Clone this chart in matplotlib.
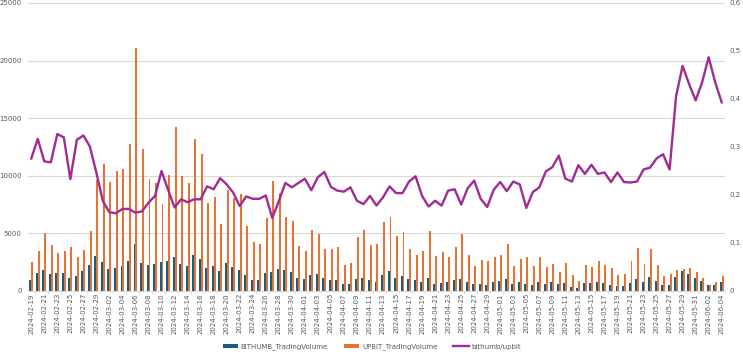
import numpy as np
import pandas as pd
import matplotlib
matplotlib.use("Agg")
import matplotlib.pyplot as plt

# daily trading volume, 2024-02-19 .. 2024-06-04
dates = pd.date_range("2024-02-19", "2024-06-04", freq="D")
labels = [d.strftime("%Y-%m-%d") for d in dates]

bithumb = [980, 1590, 1850, 1440, 1590, 1560, 1095, 1330, 1700, 2250,
           3060, 2540, 1880, 1995, 2195, 2600, 4075, 2430, 2225, 2310,
           2545, 2630, 2980, 2370, 2140, 3100, 2800, 2020, 2140, 1760,
           2455, 2110, 1790, 1415, 980, 920, 1560, 1675, 1910, 1850,
           1620, 1125, 1070, 1390, 1500, 1155, 980, 980, 575, 635,
           1040, 1125, 920, 780, 1390, 1760, 1160, 1300, 1070, 925,
           810, 1130, 640, 690, 810, 980, 1040, 810, 610, 610,
           550, 750, 870, 1070, 610, 750, 580, 550, 750, 640,
           750, 640, 690, 350, 290, 690, 690, 810, 690, 550,
           460, 430, 690, 1070, 780, 1240, 840, 490, 490, 1240,
           1700, 1470, 1100, 840, 490, 550, 810]

upbit = [2545, 3470, 5000, 4020, 3265, 3470, 3785, 2950, 3525, 5235,
         9660, 11020, 9430, 10385, 10620, 12730, 21090, 12350, 9750, 9375,
         7580, 10035, 14240, 9980, 9400, 13220, 11920, 7600, 8200, 5840,
         8735, 8100, 8420, 5670, 4250, 4105, 6360, 9575, 8505, 6390,
         6040, 3905, 3440, 5260, 4975, 3670, 3610, 3820, 2280, 2430,
         4690, 5260, 4020, 4075, 5955, 6450, 4740, 5150, 3670, 3090,
         3500, 5235, 3065, 3385, 2980, 3785, 4950, 3150, 2140, 2720,
         2600, 2950, 3120, 4075, 2200, 2800, 2920, 2200, 2980, 2050,
         2340, 1680, 2430, 1390, 900, 2250, 2050, 2630, 2250, 1965,
         1390, 1500, 2600, 3700, 2370, 3610, 2250, 1300, 1445, 1850,
         1940, 1965, 1680, 1100, 490, 750, 1330]

ratio = [0.276, 0.317, 0.270, 0.268, 0.327, 0.320, 0.233, 0.315, 0.324, 0.301,
         0.246, 0.187, 0.164, 0.162, 0.171, 0.171, 0.163, 0.166, 0.184, 0.198,
         0.250, 0.211, 0.174, 0.191, 0.185, 0.191, 0.191, 0.218, 0.212, 0.235,
         0.222, 0.205, 0.177, 0.197, 0.192, 0.192, 0.199, 0.152, 0.187, 0.225,
         0.216, 0.225, 0.234, 0.210, 0.237, 0.248, 0.217, 0.209, 0.207, 0.216,
         0.188, 0.181, 0.198, 0.178, 0.195, 0.218, 0.204, 0.204, 0.228, 0.239,
         0.198, 0.176, 0.188, 0.178, 0.209, 0.212, 0.180, 0.214, 0.230, 0.192,
         0.175, 0.211, 0.227, 0.208, 0.228, 0.222, 0.173, 0.206, 0.216, 0.249,
         0.258, 0.282, 0.234, 0.228, 0.262, 0.244, 0.263, 0.244, 0.247, 0.227,
         0.247, 0.227, 0.226, 0.228, 0.253, 0.257, 0.276, 0.285, 0.253, 0.406,
         0.469, 0.431, 0.397, 0.435, 0.487, 0.435, 0.393]

BLUE = "#156082"
ORANGE = "#E97132"
PURPLE = "#A02B93"
GRID = "#D9D9D9"
TXT = "#595959"

plt.rcParams['font.family'] = ['DejaVu Sans']
plt.rcParams['font.size'] = 5

fig = plt.figure(figsize=(7.43, 3.56), dpi=100)
ax = fig.add_axes([0.0377, 0.1826, 0.938, 0.809])

x = np.arange(len(labels))
w = 0.3
ax.bar(x - w / 2, bithumb, width=w, color=BLUE, linewidth=0,
       label="BITHUMB_TradingVolume", zorder=2)
ax.bar(x + w / 2, upbit, width=w, color=ORANGE, linewidth=0,
       label="UPBIT_TradingVolume", zorder=2)

ax.set_xlim(-0.5, len(labels) - 0.5)
ax.set_ylim(0, 25000)
ax.set_yticks(np.arange(0, 25001, 5000))
ax.grid(axis="y", color=GRID, linewidth=0.8, zorder=0)
ax.set_axisbelow(True)

ax.set_xticks(x[::2])
ax.set_xticklabels(labels[::2], rotation=90)
ax.set_xticks(np.arange(0.5, len(labels), 2), minor=True)
ax.tick_params(axis="x", which="major", length=0, pad=1.5, colors=TXT, labelsize=5)
ax.tick_params(axis="x", which="minor", length=2.5, color=GRID, width=0.6)
ax.tick_params(axis="y", length=0, pad=4.5, colors=TXT, labelsize=5)
for s in ["top", "right", "left"]:
    ax.spines[s].set_visible(False)
ax.spines["bottom"].set_color(GRID)
ax.spines["bottom"].set_linewidth(0.8)

ax2 = ax.twinx()
ax2.plot(x, ratio, color=PURPLE, linewidth=1.7, label="bithumb/upbit", zorder=3)
ax2.set_ylim(0, 0.6)
ax2.set_yticks(np.arange(0, 0.61, 0.1))
ax2.set_yticklabels(["0", "0.1", "0.2", "0.3", "0.4", "0.5", "0.6"])
ax2.tick_params(axis="y", length=0, pad=3.5, colors=TXT, labelsize=5)
for s in ax2.spines.values():
    s.set_visible(False)

h1, l1 = ax.get_legend_handles_labels()
h2, l2 = ax2.get_legend_handles_labels()
leg = fig.legend(h1 + h2, l1 + l2, loc="center", ncol=3,
                 bbox_to_anchor=(372 / 743, 1 - 347 / 356), frameon=False,
                 handlelength=2.2, handleheight=0.6, handletextpad=0.4,
                 columnspacing=2.3, fontsize=5)
for t in leg.get_texts():
    t.set_color(TXT)

fig.savefig("out.png", dpi=100)
